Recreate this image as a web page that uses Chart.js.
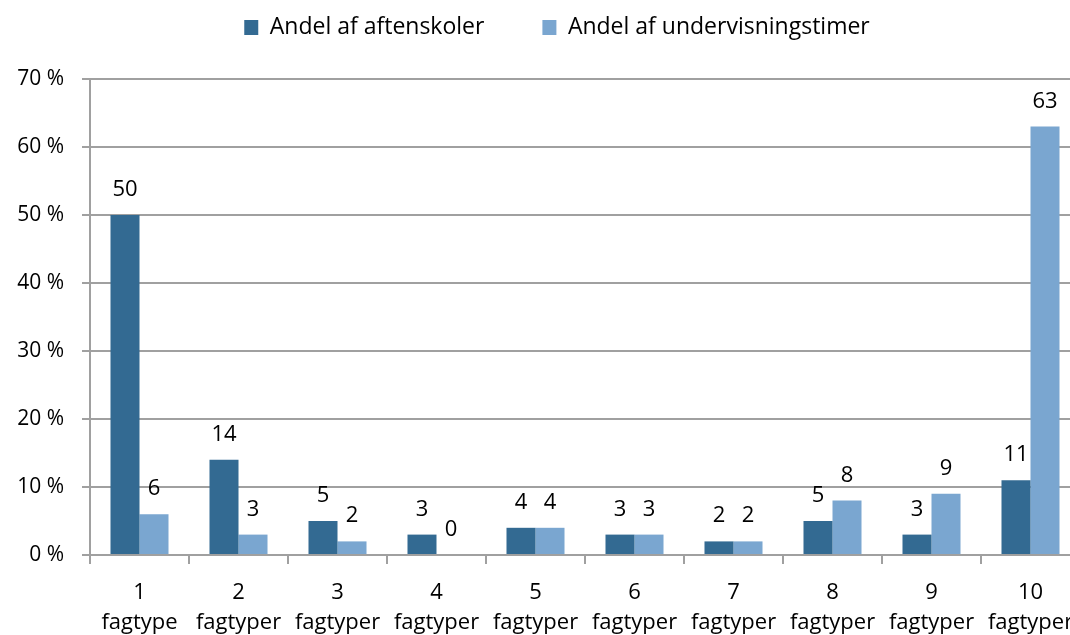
<!DOCTYPE html>
<html>
<head>
<meta charset="utf-8">
<script src="https://cdn.jsdelivr.net/npm/chart.js@4.4.1/dist/chart.umd.min.js"></script>
<style>
  html, body { margin: 0; padding: 0; background: #fff; overflow: hidden; }
  #wrap { width: 1130px; height: 635px; }
</style>
</head>
<body>
<div id="wrap"><canvas id="chart" width="1130" height="635"></canvas></div>
<script>
const categories = [
  ['1', 'fagtype'], ['2', 'fagtyper'], ['3', 'fagtyper'], ['4', 'fagtyper'], ['5', 'fagtyper'],
  ['6', 'fagtyper'], ['7', 'fagtyper'], ['8', 'fagtyper'], ['9', 'fagtyper'], ['10', 'fagtyper']
];
const aftenskoler = [50, 14, 5, 3, 4, 3, 2, 5, 3, 11];
const undervisningstimer = [6, 3, 2, 0, 4, 3, 2, 8, 9, 63];
const yTicks = [0, 10, 20, 30, 40, 50, 60, 70];

const FONT = '"Open Sans", sans-serif';

// draws the value above each bar
const valueLabels = {
  id: 'valueLabels',
  afterDatasetsDraw(chart) {
    const ctx = chart.ctx;
    ctx.save();
    ctx.font = '22px ' + FONT;
    ctx.fillStyle = '#000';
    ctx.textAlign = 'center';
    ctx.textBaseline = 'alphabetic';
    chart.data.datasets.forEach((ds, i) => {
      chart.getDatasetMeta(i).data.forEach((bar, j) => {
        ctx.fillText(String(ds.data[j]), bar.x, bar.y - 19);
      });
    });
    ctx.restore();
  }
};

// make room between legend and plot, nudge legend right a bit
const legendGap = {
  id: 'legendGap',
  afterInit(chart) {
    const lg = chart.legend;
    const fit = lg.fit;
    lg.fit = function () {
      fit.call(this);
      this.height += 30;
    };
  },
  afterLayout(chart) {
    chart.legend.left += 17;
    chart.legend.right += 17;
  }
};

new Chart(document.getElementById('chart').getContext('2d'), {
  type: 'bar',
  data: {
    labels: categories,
    datasets: [
      { label: 'Andel af aftenskoler', data: aftenskoler, backgroundColor: '#336A92',
        categoryPercentage: 0.586, barPercentage: 1 },
      { label: 'Andel af undervisningstimer', data: undervisningstimer, backgroundColor: '#7AA6D0',
        categoryPercentage: 0.586, barPercentage: 1 }
    ]
  },
  options: {
    responsive: false,
    animation: false,
    layout: { padding: { left: 0, right: 50, top: -42, bottom: 0 } },
    plugins: {
      legend: {
        position: 'top',
        labels: { boxWidth: 14, boxHeight: 15, padding: 58, color: '#000', font: { family: FONT, size: 23 } }
      },
      tooltip: { enabled: false }
    },
    scales: {
      x: {
        grid: { offset: true, drawOnChartArea: false, color: '#a0a0a0', lineWidth: 2, tickLength: 9 },
        border: { color: '#a0a0a0', width: 2 },
        ticks: { color: '#000', font: { family: FONT, size: 22, lineHeight: 1.36 }, padding: 14, maxRotation: 0, autoSkip: false },
        afterFit(s) { s.height = 80; }
      },
      y: {
        min: 0, max: 70,
        afterBuildTicks(s) { s.ticks = yTicks.map(v => ({ value: v })); },
        grid: { color: '#a0a0a0', lineWidth: 2, tickLength: 8 },
        border: { color: '#a0a0a0', width: 2 },
        ticks: { color: '#000', font: { family: FONT, size: 21 }, padding: 18, callback: v => v + ' %' },
        afterFit(s) { s.width = 90; }
      }
    }
  },
  plugins: [valueLabels, legendGap]
});
</script>
</body>
</html>
